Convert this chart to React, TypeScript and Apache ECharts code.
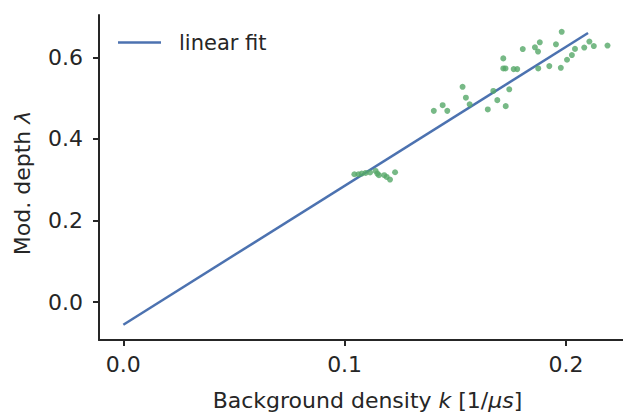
import React, { useEffect, useRef } from "react";
import * as echarts from "echarts";

// Scatter measurements: background density k [1/µs] and modulation depth λ
const pointK = [
  0.1044, 0.1062, 0.1077, 0.1095, 0.1115, 0.114, 0.1148, 0.1155, 0.1179, 0.119, 0.1205, 0.1228,
  0.1403, 0.1443, 0.1464, 0.1533, 0.1548, 0.1565, 0.1647, 0.1672, 0.169, 0.1728, 0.1744,
  0.1717, 0.1717, 0.1727, 0.1764, 0.178, 0.1805, 0.186, 0.1874, 0.1882, 0.1875, 0.1925,
  0.1955, 0.1977, 0.1981, 0.2005, 0.2027, 0.2041, 0.2083, 0.2106, 0.2126, 0.2188,
];
const pointLambda = [
  0.3135, 0.3135, 0.3152, 0.3167, 0.3177, 0.3216, 0.3152, 0.3111, 0.3111, 0.3069, 0.3005, 0.3184,
  0.4689, 0.4829, 0.4689, 0.5279, 0.5013, 0.4849, 0.4724, 0.5178, 0.4952, 0.4805, 0.5217,
  0.5976, 0.573, 0.573, 0.5713, 0.5713, 0.6204, 0.6248, 0.6143, 0.6371, 0.573, 0.5787,
  0.6322, 0.5745, 0.6627, 0.5942, 0.6057, 0.6209, 0.6241, 0.6388, 0.6278, 0.629,
];

// Linear fit endpoints
const fitK = [0, 0.21];
const fitLambda = [-0.0555, 0.66];

const xTicks = [0, 0.1, 0.2];
const yTicks = [0, 0.2, 0.4, 0.6];

const TEXT = "#262626";
const FONT = "DejaVu Sans";

export default function App() {
  const ref = useRef<HTMLDivElement>(null);

  useEffect(() => {
    if (!ref.current) return;
    const chart = echarts.init(ref.current, undefined, { renderer: "svg" });
    const scatterData = pointK.map((k, i) => [k, pointLambda[i]]);
    const fitData = fitK.map((k, i) => [k, fitLambda[i]]);

    chart.setOption({
      animation: false,
      backgroundColor: "#ffffff",
      textStyle: { fontFamily: FONT, color: TEXT },
      grid: {
        left: 99,
        right: 0,
        top: 15,
        bottom: 72,
        containLabel: false,
        outerBoundsMode: "none",
      },
      legend: {
        data: ["linear fit"],
        left: 118,
        top: 32,
        padding: 0,
        icon: "rect",
        itemWidth: 43,
        itemHeight: 2.5,
        textStyle: {
          fontFamily: FONT,
          fontSize: 21,
          color: TEXT,
          padding: [0, 0, 0, 13],
        },
      },
      xAxis: {
        type: "value",
        min: -0.011,
        max: 0.2258,
        name: "Background density {i|k} [1/{i|μs}]",
        nameLocation: "middle",
        nameGap: 49,
        nameTextStyle: {
          fontFamily: FONT,
          fontSize: 22,
          color: TEXT,
          padding: [0, 0, 0, 13],
          rich: {
            i: { fontFamily: FONT, fontSize: 22, fontStyle: "italic", color: TEXT },
          },
        },
        axisLine: { show: true, onZero: false, lineStyle: { color: TEXT, width: 2 } },
        axisTick: {
          show: true,
          length: 6,
          lineStyle: { color: TEXT, width: 2 },
          customValues: xTicks,
        },
        axisLabel: {
          fontFamily: FONT,
          fontSize: 22,
          color: TEXT,
          margin: 13,
          customValues: xTicks,
          formatter: (v: number) => v.toFixed(1),
        },
        splitLine: { show: false },
      },
      yAxis: {
        type: "value",
        min: -0.093,
        max: 0.704,
        name: "Mod. depth {i|λ}",
        nameLocation: "middle",
        nameGap: 66,
        nameRotate: 90,
        nameTextStyle: {
          fontFamily: FONT,
          fontSize: 22,
          color: TEXT,
          padding: [0, 11, 0, 0],
          rich: {
            i: { fontFamily: FONT, fontSize: 22, fontStyle: "italic", color: TEXT },
          },
        },
        axisLine: { show: true, onZero: false, lineStyle: { color: TEXT, width: 2 } },
        axisTick: {
          show: true,
          length: 6,
          lineStyle: { color: TEXT, width: 2 },
          customValues: yTicks,
        },
        axisLabel: {
          fontFamily: FONT,
          fontSize: 22,
          color: TEXT,
          margin: 16,
          customValues: yTicks,
          formatter: (v: number) => v.toFixed(1),
        },
        splitLine: { show: false },
      },
      series: [
        {
          name: "data",
          type: "scatter",
          data: scatterData,
          symbolSize: 6,
          itemStyle: { color: "#55a868" },
          z: 3,
        },
        {
          name: "linear fit",
          type: "line",
          data: fitData,
          showSymbol: false,
          symbol: "none",
          lineStyle: { color: "#4c72b0", width: 2.5 },
          itemStyle: { color: "#4c72b0" },
          z: 2,
        },
      ],
    });

    return () => chart.dispose();
  }, []);

  return (
    <div
      ref={ref}
      style={{ width: 623, height: 412, position: "fixed", left: 0, top: 0, background: "#fff" }}
    />
  );
}
